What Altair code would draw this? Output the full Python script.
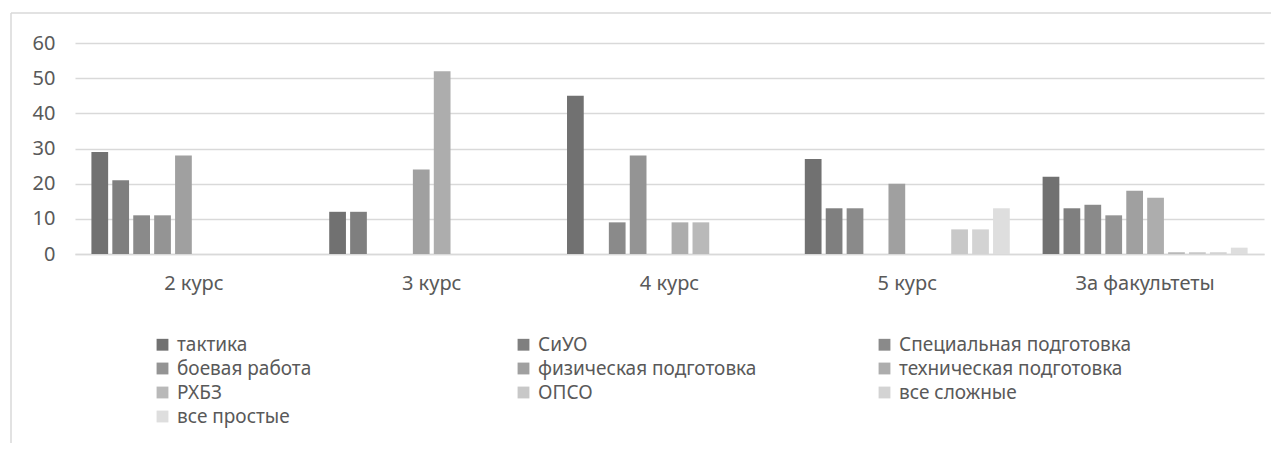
import altair as alt
import pandas as pd

categories = ["2 курс", "3 курс", "4 курс", "5 курс", "За факультеты"]
series = ["тактика", "СиУО", "Специальная подготовка", "боевая работа",
          "физическая подготовка", "техническая подготовка", "РХБЗ", "ОПСО",
          "все сложные", "все простые"]
colors = ["#717171", "#7f7f7f", "#8a8a8a", "#949494", "#a0a0a0",
          "#adadad", "#b9b9b9", "#c8c8c8", "#d3d3d3", "#dedede"]

# values per series, one per category
taktika = [29, 12, 45, 27, 22]
siuo = [21, 12, 0, 13, 13]
spec = [11, 0, 9, 13, 14]
boevaya = [11, 0, 28, 0, 11]
fiz = [28, 24, 0, 20, 18]
tech = [0, 52, 9, 0, 16]
rhbz = [0, 0, 9, 0, 0.5]
opso = [0, 0, 0, 7, 0.5]
vse_slozhnye = [0, 0, 0, 7, 0.5]
vse_prostye = [0, 0, 0, 13, 1.8]

values = [taktika, siuo, spec, boevaya, fiz, tech, rhbz, opso, vse_slozhnye, vse_prostye]

rows = []
for s, vals in zip(series, values):
    for c, v in zip(categories, vals):
        rows.append({"course": c, "series": s, "value": v})
df = pd.DataFrame(rows)

FONT = "Noto Sans"
TXT = "#595959"
FS = 20
LFS = 19

bars = alt.Chart(df).mark_bar().encode(
    x=alt.X("course:N", sort=categories, title=None,
            scale=alt.Scale(paddingInner=0.138, paddingOuter=0.069),
            axis=alt.Axis(labelAngle=0, ticks=False, labelPadding=19,
                          domainColor="#d9d9d9", domainWidth=1.5,
                          labelFont=FONT, labelFontSize=FS, labelColor=TXT)),
    xOffset=alt.XOffset("series:N", sort=series, scale=alt.Scale(paddingInner=0.2)),
    y=alt.Y("value:Q", title=None,
            scale=alt.Scale(domain=[0, 60]),
            axis=alt.Axis(values=[0, 10, 20, 30, 40, 50, 60], domain=False, ticks=False,
                          labelPadding=20, gridColor="#d9d9d9", gridWidth=1.5,
                          labelFont=FONT, labelFontSize=FS, labelColor=TXT,
                          minExtent=67, maxExtent=67)),
    color=alt.Color("series:N", sort=series,
                    scale=alt.Scale(domain=series, range=colors),
                    legend=alt.Legend(title=None, orient="none", legendX=78, legendY=292,
                                      direction="horizontal",
                                      columns=3, gridAlign="all", columnPadding=104,
                                      rowPadding=4, symbolType="square", symbolSize=140,
                                      symbolStrokeWidth=0, labelOffset=5,
                                      labelFont=FONT, labelFontSize=LFS, labelColor=TXT,
                                      labelLimit=400)),
)

frame = pd.DataFrame({"k": [0]})
left_border = alt.Chart(frame).mark_rule(color="#d9d9d9", strokeWidth=1.5).encode(
    x=alt.value(-64), y=alt.value(-30), y2=alt.value(400))
top_border = alt.Chart(frame).mark_rule(color="#d9d9d9", strokeWidth=1.5).encode(
    x=alt.value(-64), x2=alt.value(1196), y=alt.value(-30))

chart = alt.layer(bars, left_border, top_border).properties(
    width=1189, height=211,
    padding={"left": 0, "top": 4, "right": 0, "bottom": 0},
).configure_view(stroke=None)

chart.save("out.html", embed_options={"renderer": "svg", "actions": False})
